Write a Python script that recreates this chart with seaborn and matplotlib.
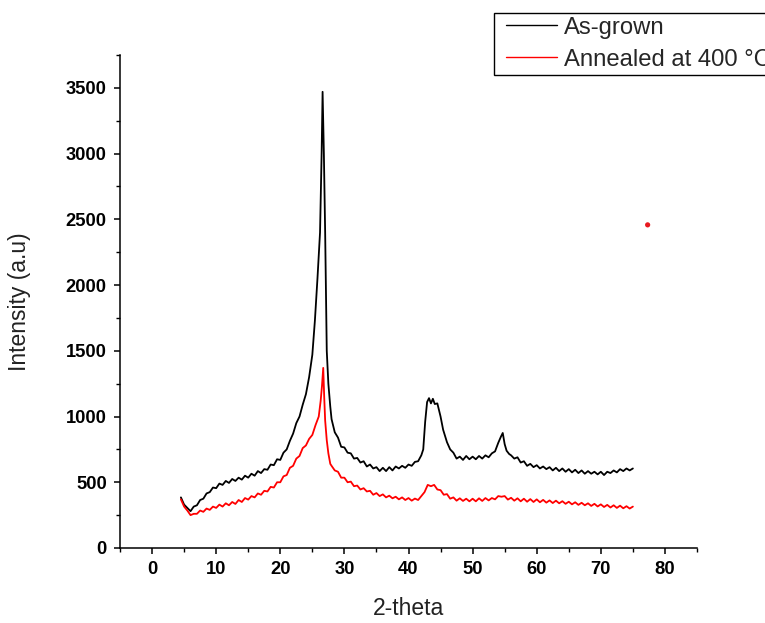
import matplotlib
matplotlib.use("Agg")
import matplotlib.pyplot as plt
from matplotlib.ticker import MultipleLocator
from matplotlib.legend_handler import HandlerLine2D
import seaborn as sns
import pandas as pd

# ---- data ----
black_x = [4.5, 5.0, 5.5, 6.0, 6.5, 7.0, 7.5, 8.0, 8.5, 9.0, 9.5, 10.0, 10.5, 11.0, 11.5, 12.0,
           12.5, 13.0, 13.5, 14.0, 14.5, 15.0, 15.5, 16.0, 16.5, 17.0, 17.5, 18.0, 18.5, 19.0,
           19.5, 20.0, 20.5, 21.0, 21.5, 22.0, 22.5, 23.0, 23.5, 24.0, 24.5, 25.0, 25.4, 25.8,
           26.2, 26.45, 26.6, 26.8, 27.0, 27.25, 27.5, 27.8, 28.0, 28.5, 29.0, 29.5, 30.0, 30.5,
           31.0, 31.5, 32.0, 32.5, 33.0, 33.5, 34.0, 34.5, 35.0, 35.5, 36.0, 36.5, 37.0, 37.5,
           38.0, 38.5, 39.0, 39.5, 40.0, 40.5, 41.0, 41.5, 42.0, 42.3, 42.6, 42.9, 43.2, 43.5,
           43.8, 44.1, 44.5, 45.0, 45.4, 46.0, 46.5, 47.0, 47.5, 48.0, 48.5, 49.0, 49.5, 50.0,
           50.5, 51.0, 51.5, 52.0, 52.5, 53.0, 53.5, 54.0, 54.4, 54.7, 55.0, 55.3, 55.7, 56.0,
           56.5, 57.0, 57.5, 58.0, 58.5, 59.0, 59.5, 60.0, 60.5, 61.0, 61.5, 62.0, 62.5, 63.0,
           63.5, 64.0, 64.5, 65.0, 65.5, 66.0, 66.5, 67.0, 67.5, 68.0, 68.5, 69.0, 69.5, 70.0,
           70.5, 71.0, 71.5, 72.0, 72.5, 73.0, 73.5, 74.0, 74.5, 75.0]
black_y = [385, 330, 305, 280, 315, 325, 365, 375, 415, 425, 460, 455, 490, 480, 510, 495,
           525, 510, 535, 520, 550, 535, 565, 550, 585, 570, 600, 595, 635, 630,
           675, 670, 725, 750, 815, 870, 950, 1000, 1090, 1170, 1300, 1470, 1730, 2050,
           2400, 3000, 3470, 3000, 2400, 1500, 1250, 1075, 980, 880, 840, 770, 765, 725,
           720, 680, 685, 650, 660, 620, 635, 605, 615, 585, 610, 585, 615, 590,
           620, 605, 625, 610, 635, 625, 655, 660, 705, 750, 960, 1110, 1140, 1100,
           1135, 1095, 1100, 1000, 900, 805, 750, 725, 680, 695, 670, 700, 675, 695,
           675, 700, 680, 705, 690, 720, 735, 800, 845, 875, 790, 740, 715, 705,
           680, 690, 650, 660, 625, 640, 615, 630, 605, 620, 600, 615, 590, 610,
           585, 605, 580, 600, 575, 595, 570, 590, 565, 585, 565, 580, 560, 580,
           555, 580, 570, 590, 575, 600, 585, 605, 590, 605]

red_x = [4.5, 5.0, 5.5, 6.0, 6.5, 7.0, 7.5, 8.0, 8.5, 9.0, 9.5, 10.0, 10.5, 11.0, 11.5, 12.0,
         12.5, 13.0, 13.5, 14.0, 14.5, 15.0, 15.5, 16.0, 16.5, 17.0, 17.5, 18.0, 18.5, 19.0,
         19.5, 20.0, 20.5, 21.0, 21.5, 22.0, 22.5, 23.0, 23.5, 24.0, 24.5, 25.0, 25.5, 26.0,
         26.3, 26.5, 26.7, 26.85, 27.0, 27.25, 27.5, 27.8, 28.0, 28.5, 29.0, 29.5, 30.0, 30.5,
         31.0, 31.5, 32.0, 32.5, 33.0, 33.5, 34.0, 34.5, 35.0, 35.5, 36.0, 36.5, 37.0, 37.5,
         38.0, 38.5, 39.0, 39.5, 40.0, 40.5, 41.0, 41.5, 42.0, 42.5, 43.0, 43.5, 44.0, 44.5,
         45.0, 45.5, 46.0, 46.5, 47.0, 47.5, 48.0, 48.5, 49.0, 49.5, 50.0, 50.5, 51.0, 51.5,
         52.0, 52.5, 53.0, 53.5, 54.0, 54.5, 55.0, 55.5, 56.0, 56.5, 57.0, 57.5, 58.0, 58.5,
         59.0, 59.5, 60.0, 60.5, 61.0, 61.5, 62.0, 62.5, 63.0, 63.5, 64.0, 64.5, 65.0, 65.5,
         66.0, 66.5, 67.0, 67.5, 68.0, 68.5, 69.0, 69.5, 70.0, 70.5, 71.0, 71.5, 72.0, 72.5,
         73.0, 73.5, 74.0, 74.5, 75.0]
red_y = [370, 315, 285, 250, 260, 260, 285, 275, 300, 290, 315, 305, 330, 315, 340, 325,
         350, 335, 365, 350, 380, 368, 395, 385, 415, 405, 435, 430, 465, 460,
         500, 500, 545, 555, 610, 625, 680, 700, 760, 780, 830, 860, 935, 1000,
         1120, 1230, 1370, 1150, 970, 820, 720, 640, 625, 590, 580, 535, 535, 500,
         505, 470, 475, 445, 455, 430, 435, 405, 418, 395, 408, 385, 398, 378,
         390, 370, 385, 365, 380, 360, 376, 365, 395, 425, 480, 470, 480, 445,
         440, 405, 410, 375, 385, 360, 378, 358, 375, 355, 375, 355, 378, 358,
         380, 362, 380, 370, 395, 390, 395, 368, 382, 360, 378, 355, 375, 352,
         372, 350, 370, 348, 366, 345, 362, 342, 360, 340, 356, 336, 352, 332,
         348, 328, 344, 325, 340, 320, 336, 316, 332, 312, 328, 308, 325, 305,
         322, 302, 318, 300, 315]

dot_x = [77.3]
dot_y = [2458]

x_ticks = [0, 10, 20, 30, 40, 50, 60, 70, 80]
y_ticks = [0, 500, 1000, 1500, 2000, 2500, 3000, 3500]
series_names = ["As-grown", "Annealed at 400 °C"]

# ---- styling ----
sns.set_style("ticks")
plt.rcParams["font.family"] = ["Liberation Sans", "DejaVu Sans"]

fig = plt.figure(figsize=(7.65, 6.23), dpi=100)
ax = fig.add_axes([120 / 765, 1 - 548 / 623, 577 / 765, 493 / 623])

df_black = pd.DataFrame({"x": black_x, "y": black_y})
df_red = pd.DataFrame({"x": red_x, "y": red_y})
df_dot = pd.DataFrame({"x": dot_x, "y": dot_y})

sns.lineplot(data=df_black, x="x", y="y", ax=ax, color="black", linewidth=1.3,
             estimator=None, sort=False, label=series_names[0])
sns.lineplot(data=df_red, x="x", y="y", ax=ax, color="#ff0000", linewidth=1.3,
             estimator=None, sort=False, label=series_names[1])
sns.scatterplot(data=df_dot, x="x", y="y", ax=ax, color="#e8191f", s=14,
                edgecolor="none", legend=False)

ax.set_xlim(-5, 85)
ax.set_ylim(0, 3750)
ax.set_xticks(x_ticks)
ax.set_yticks(y_ticks)
ax.xaxis.set_minor_locator(MultipleLocator(5))
ax.yaxis.set_minor_locator(MultipleLocator(250))

for side in ["top", "right"]:
    ax.spines[side].set_visible(False)
for side in ["left", "bottom"]:
    ax.spines[side].set_linewidth(1.1)
    ax.spines[side].set_color("black")

ax.tick_params(which="major", direction="out", length=4.5, width=1.1, pad=5,
               labelsize=13.2, colors="black")
ax.tick_params(which="minor", direction="out", length=2.6, width=1.0, colors="black")
for lbl in ax.get_xticklabels() + ax.get_yticklabels():
    lbl.set_fontweight("bold")

ax.set_xlabel("2-theta", fontsize=16.5, color="#222222")
ax.set_ylabel("Intensity (a.u)", fontsize=16.5, color="#222222")
ax.xaxis.set_label_coords(0.5, -0.10)
ax.yaxis.set_label_coords(-0.155, 0.5)

fs = 17.2
leg = ax.legend(loc="upper left", bbox_to_anchor=(494 / 765, 1 - 13 / 623),
                bbox_transform=fig.transFigure, fontsize=fs, frameon=True,
                fancybox=False, handlelength=2.8, handletextpad=-0.05,
                labelspacing=0.42, borderpad=0.16, borderaxespad=0,
                handler_map={plt.Line2D: HandlerLine2D(numpoints=2, marker_pad=0.33)})
leg.get_frame().set_edgecolor("black")
leg.get_frame().set_linewidth(1.0)
leg.get_frame().set_alpha(1)
for line in leg.get_lines():
    line.set_linewidth(1.0)

fig.savefig("out.png", dpi=100)
